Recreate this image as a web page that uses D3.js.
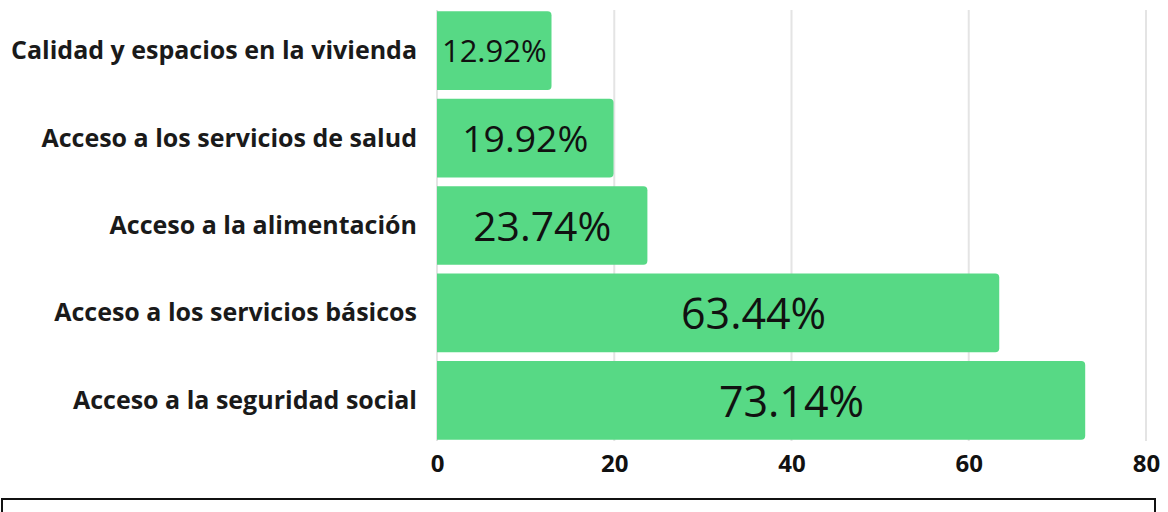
<!DOCTYPE html>
<html>
<head>
<meta charset="utf-8">
<script src="https://cdn.jsdelivr.net/npm/d3@7"></script>
<style>
  html, body { margin: 0; padding: 0; background: #fff; }
  svg { display: block; }
  .chart__axis text { font-family: 'Open Sans', sans-serif; font-weight: 700; font-size: 24px; fill: #111; }
  .chart__cat { font-family: 'Open Sans', sans-serif; font-weight: 700; font-size: 25px; fill: #1a1a1a; }
  .chart__label { font-family: 'Open Sans', sans-serif; font-weight: 400; fill: #111; }
</style>
</head>
<body>
<div id="chart"></div>
<script>
const categories = [
  'Calidad y espacios en la vivienda',
  'Acceso a los servicios de salud',
  'Acceso a la alimentación',
  'Acceso a los servicios básicos',
  'Acceso a la seguridad social'
];
const values = [12.92, 19.92, 23.74, 63.44, 73.14];
const xTicks = [0, 20, 40, 60, 80];

const width = 1168;
const height = 512;
const margin = { top: 10, right: 22, bottom: 71, left: 437 };
const innerWidth = width - margin.left - margin.right;
const innerHeight = height - margin.top - margin.bottom;
const xMax = 80;

const data = categories.map((name, i) => ({ name, value: values[i] }));

const svg = d3.select('#chart')
  .append('svg')
    .attr('width', width)
    .attr('height', height);

const g = svg.append('g')
  .attr('transform', `translate(${margin.left}, ${margin.top})`);

const scaleX = d3.scaleLinear()
  .domain([0, xMax])
  .range([0, innerWidth]);

const scaleY = d3.scaleBand()
  .domain(categories)
  .range([0, innerHeight])
  .paddingInner(0.1)
  .paddingOuter(0.013);

// label size grows with the value, capped
const fontScale = d3.scaleLinear()
  .domain([13, 26])
  .range([31, 43])
  .clamp(true);

// grid
g.append('g')
  .selectAll('line')
  .data(xTicks)
  .join('line')
    .attr('x1', d => scaleX(d))
    .attr('x2', d => scaleX(d))
    .attr('y1', 0)
    .attr('y2', innerHeight)
    .attr('stroke', '#e4e4e4')
    .attr('stroke-width', 2);

// bars, square on the left, rounded on the right
const r = 4;
g.append('g')
  .selectAll('path')
  .data(data)
  .join('path')
    .attr('fill', '#57d985')
    .attr('d', d => {
      const x0 = scaleX(0), x1 = scaleX(d.value);
      const y0 = scaleY(d.name), y1 = y0 + scaleY.bandwidth();
      return `M${x0},${y0}H${x1 - r}Q${x1},${y0} ${x1},${y0 + r}V${y1 - r}Q${x1},${y1} ${x1 - r},${y1}H${x0}Z`;
    });

// value labels; long bars pull their label toward the middle of the axis
const labelPos = v => v > xMax / 2 ? Math.min(v / 2 + 4, xMax / 2) : v / 2;

g.append('g')
  .selectAll('text')
  .data(data)
  .join('text')
    .attr('class', 'chart__label')
    .attr('x', d => scaleX(labelPos(d.value)))
    .attr('y', d => scaleY(d.name) + scaleY.bandwidth() / 2)
    .attr('dy', '0.38em')
    .attr('text-anchor', 'middle')
    .style('font-size', d => `${fontScale(d.value)}px`)
    .text(d => `${d.value.toFixed(2)}%`);

// category labels
g.append('g')
  .selectAll('text')
  .data(data)
  .join('text')
    .attr('class', 'chart__cat')
    .attr('x', -20)
    .attr('y', d => scaleY(d.name) + scaleY.bandwidth() / 2)
    .attr('dy', '0.34em')
    .attr('text-anchor', 'end')
    .text(d => d.name);

// x axis
const xAxis = d3.axisBottom(scaleX)
  .tickValues(xTicks)
  .tickSize(0)
  .tickPadding(14);

g.append('g')
  .attr('class', 'chart__axis chart__axis--x')
  .attr('transform', `translate(0, ${innerHeight})`)
  .call(xAxis)
  .call(sel => sel.select('.domain').remove());

// empty box below the chart
svg.append('rect')
  .attr('x', 2)
  .attr('y', 499)
  .attr('width', 1153)
  .attr('height', 40)
  .attr('fill', 'none')
  .attr('stroke', '#111')
  .attr('stroke-width', 2);
</script>
</body>
</html>
